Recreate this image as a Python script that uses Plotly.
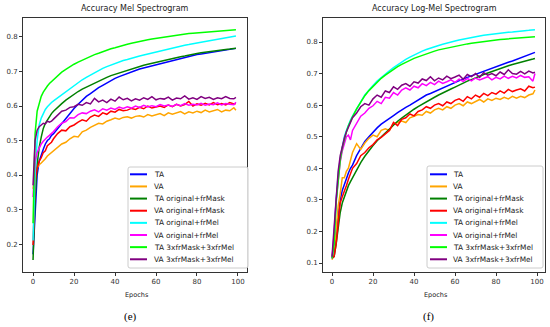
import plotly.graph_objects as go

epochs = [0, 1, 2, 3, 4, 5, 6, 7, 8, 9, 10, 12, 14, 16, 18, 20, 22, 24, 26, 28, 30, 32, 34, 36, 38,
          40, 42, 44, 46, 48, 50, 52, 54, 56, 58, 60, 62, 64, 66, 68, 70, 72, 74, 76, 78, 80,
          82, 84, 86, 88, 90, 92, 94, 96, 98, 99]

series_names = ["TA", "VA", "TA original+frMask", "VA original+frMask",
                "TA original+frMel", "VA original+frMel", "TA 3xfrMask+3xfrMel", "VA 3xfrMask+3xfrMel"]
series_colors = ["#0000ff", "#ffa500", "#008000", "#ff0000", "#00ffff", "#ff00ff", "#00ff00", "#800080"]

# ---- (e) Accuracy Mel Spectrogram ----
mel_ta = [0.17, 0.30, 0.40, 0.44, 0.46, 0.475, 0.49, 0.50, 0.505, 0.515, 0.52, 0.535, 0.55, 0.565, 0.58, 0.593,
          0.605, 0.617, 0.628, 0.636, 0.645, 0.653, 0.66, 0.667, 0.675, 0.68, 0.685, 0.69, 0.695, 0.699, 0.703,
          0.707, 0.71, 0.714, 0.717, 0.72, 0.724, 0.727, 0.73, 0.733, 0.735, 0.738, 0.741, 0.744, 0.747, 0.749,
          0.751, 0.753, 0.755, 0.757, 0.759, 0.761, 0.762, 0.764, 0.766, 0.767]
mel_va = [0.36, 0.40, 0.42, 0.43, 0.435, 0.44, 0.447, 0.455, 0.46, 0.465, 0.47, 0.48, 0.49, 0.495, 0.505, 0.512,
          0.51, 0.525, 0.53, 0.538, 0.545, 0.55, 0.548, 0.556, 0.56, 0.565, 0.562, 0.567, 0.569, 0.565, 0.57,
          0.572, 0.568, 0.575, 0.571, 0.574, 0.578, 0.572, 0.58, 0.576, 0.58, 0.584, 0.577, 0.583, 0.58, 0.585,
          0.581, 0.588, 0.583, 0.586, 0.59, 0.583, 0.588, 0.586, 0.595, 0.588]
mel_ta_frmask = [0.154, 0.33, 0.43, 0.48, 0.51, 0.535, 0.55, 0.56, 0.57, 0.578, 0.585, 0.597, 0.607, 0.617, 0.626,
                 0.634, 0.642, 0.649, 0.655, 0.661, 0.667, 0.673, 0.678, 0.683, 0.688, 0.692, 0.696, 0.70, 0.704,
                 0.708, 0.711, 0.715, 0.718, 0.721, 0.724, 0.727, 0.73, 0.733, 0.736, 0.738, 0.741, 0.743, 0.745,
                 0.748, 0.75, 0.752, 0.754, 0.756, 0.757, 0.759, 0.761, 0.762, 0.764, 0.765, 0.766, 0.767]
mel_va_frmask = [0.197, 0.38, 0.42, 0.44, 0.45, 0.465, 0.47, 0.485, 0.49, 0.495, 0.505, 0.52, 0.53, 0.528, 0.54,
                 0.545, 0.553, 0.56, 0.556, 0.568, 0.574, 0.57, 0.58, 0.576, 0.585, 0.582, 0.59, 0.586, 0.588,
                 0.593, 0.59, 0.596, 0.592, 0.60, 0.594, 0.598, 0.60, 0.596, 0.603, 0.598, 0.605, 0.60, 0.604,
                 0.613, 0.60, 0.606, 0.602, 0.608, 0.603, 0.61, 0.604, 0.607, 0.603, 0.61, 0.606, 0.607]
mel_ta_frmel = [0.21, 0.40, 0.50, 0.545, 0.565, 0.58, 0.59, 0.598, 0.605, 0.61, 0.615, 0.624, 0.633, 0.642, 0.65,
                0.66, 0.668, 0.676, 0.683, 0.69, 0.697, 0.703, 0.709, 0.714, 0.719, 0.724, 0.728, 0.732, 0.735,
                0.739, 0.742, 0.745, 0.748, 0.751, 0.754, 0.757, 0.76, 0.763, 0.766, 0.768, 0.771, 0.773, 0.776,
                0.778, 0.781, 0.783, 0.785, 0.787, 0.789, 0.791, 0.793, 0.795, 0.797, 0.799, 0.801, 0.803]
mel_va_frmel = [0.336, 0.44, 0.465, 0.48, 0.49, 0.498, 0.505, 0.51, 0.515, 0.52, 0.526, 0.54, 0.55, 0.555, 0.566,
                0.565, 0.575, 0.58, 0.578, 0.585, 0.589, 0.583, 0.592, 0.588, 0.594, 0.59, 0.597, 0.593, 0.598,
                0.594, 0.60, 0.596, 0.602, 0.597, 0.601, 0.598, 0.604, 0.60, 0.603, 0.599, 0.605, 0.601, 0.607,
                0.602, 0.605, 0.603, 0.608, 0.602, 0.606, 0.604, 0.609, 0.603, 0.607, 0.605, 0.604, 0.611]
mel_ta_3x = [0.26, 0.52, 0.585, 0.61, 0.628, 0.64, 0.65, 0.658, 0.665, 0.671, 0.677, 0.688, 0.698, 0.706, 0.714,
             0.721, 0.727, 0.733, 0.738, 0.744, 0.749, 0.753, 0.758, 0.762, 0.766, 0.769, 0.773, 0.776, 0.779,
             0.782, 0.785, 0.787, 0.79, 0.792, 0.794, 0.796, 0.798, 0.80, 0.802, 0.804, 0.805, 0.807, 0.808,
             0.81, 0.811, 0.812, 0.813, 0.814, 0.815, 0.816, 0.817, 0.818, 0.819, 0.82, 0.821, 0.821]
mel_va_3x = [0.37, 0.50, 0.53, 0.54, 0.545, 0.55, 0.548, 0.556, 0.553, 0.556, 0.562, 0.573, 0.585, 0.588, 0.596,
             0.598, 0.605, 0.602, 0.61, 0.606, 0.622, 0.612, 0.617, 0.61, 0.62, 0.614, 0.626, 0.618, 0.622,
             0.615, 0.621, 0.617, 0.624, 0.619, 0.627, 0.618, 0.622, 0.62, 0.626, 0.617, 0.623, 0.621, 0.629,
             0.62, 0.624, 0.619, 0.627, 0.622, 0.625, 0.619, 0.624, 0.621, 0.627, 0.622, 0.621, 0.625]

# ---- (f) Accuracy Log-Mel Spectrogram ----
log_ta = [0.115, 0.13, 0.20, 0.26, 0.30, 0.33, 0.35, 0.37, 0.385, 0.40, 0.41, 0.44, 0.465, 0.485, 0.50, 0.515,
          0.528, 0.54, 0.55, 0.559, 0.567, 0.576, 0.585, 0.593, 0.60, 0.608, 0.615, 0.622, 0.632, 0.637, 0.643,
          0.649, 0.655, 0.661, 0.666, 0.672, 0.678, 0.683, 0.688, 0.693, 0.698, 0.703, 0.708, 0.713, 0.718,
          0.723, 0.727, 0.732, 0.736, 0.740, 0.745, 0.749, 0.754, 0.759, 0.764, 0.767]
log_va = [0.11, 0.13, 0.20, 0.28, 0.32, 0.37, 0.37, 0.39, 0.40, 0.43, 0.45, 0.478, 0.46, 0.48, 0.495, 0.505,
          0.50, 0.52, 0.525, 0.52, 0.54, 0.545, 0.55, 0.545, 0.56, 0.565, 0.57, 0.568, 0.58, 0.575, 0.585,
          0.59, 0.585, 0.595, 0.59, 0.60, 0.605, 0.598, 0.61, 0.605, 0.612, 0.618, 0.61, 0.62, 0.615, 0.622,
          0.618, 0.625, 0.62, 0.628, 0.622, 0.628, 0.624, 0.632, 0.636, 0.648]
log_ta_frmask = [0.115, 0.12, 0.16, 0.22, 0.26, 0.29, 0.31, 0.33, 0.345, 0.358, 0.37, 0.395, 0.418, 0.438, 0.456,
                 0.472, 0.487, 0.50, 0.513, 0.525, 0.538, 0.549, 0.559, 0.569, 0.578, 0.587, 0.595, 0.603, 0.611,
                 0.618, 0.625, 0.632, 0.639, 0.645, 0.651, 0.657, 0.664, 0.67, 0.676, 0.681, 0.687, 0.692, 0.697,
                 0.702, 0.707, 0.712, 0.716, 0.72, 0.725, 0.729, 0.732, 0.736, 0.739, 0.743, 0.746, 0.748]
log_va_frmask = [0.115, 0.12, 0.16, 0.22, 0.29, 0.31, 0.325, 0.345, 0.365, 0.385, 0.40, 0.415, 0.44, 0.45, 0.465,
                 0.475, 0.49, 0.498, 0.51, 0.52, 0.545, 0.535, 0.555, 0.56, 0.572, 0.566, 0.58, 0.585, 0.595,
                 0.59, 0.60, 0.605, 0.598, 0.61, 0.605, 0.615, 0.62, 0.612, 0.627, 0.62, 0.632, 0.625, 0.637,
                 0.63, 0.64, 0.635, 0.645, 0.638, 0.65, 0.643, 0.648, 0.652, 0.645, 0.66, 0.655, 0.657]
log_ta_frmel = [0.115, 0.17, 0.30, 0.38, 0.43, 0.47, 0.50, 0.52, 0.54, 0.553, 0.565, 0.59, 0.61, 0.632, 0.648,
                0.662, 0.676, 0.688, 0.699, 0.709, 0.719, 0.728, 0.737, 0.745, 0.752, 0.759, 0.765, 0.771, 0.776,
                0.781, 0.785, 0.789, 0.793, 0.797, 0.80, 0.803, 0.806, 0.809, 0.812, 0.814, 0.817, 0.819, 0.821,
                0.823, 0.825, 0.826, 0.828, 0.83, 0.831, 0.832, 0.834, 0.835, 0.836, 0.837, 0.838, 0.839]
log_va_frmel = [0.115, 0.19, 0.30, 0.37, 0.42, 0.455, 0.48, 0.50, 0.505, 0.49, 0.52, 0.545, 0.565, 0.575, 0.59,
                0.598, 0.612, 0.605, 0.625, 0.622, 0.64, 0.632, 0.648, 0.655, 0.648, 0.66, 0.655, 0.668, 0.662,
                0.672, 0.665, 0.676, 0.669, 0.674, 0.68, 0.672, 0.682, 0.675, 0.685, 0.677, 0.686, 0.68, 0.684,
                0.69, 0.68, 0.688, 0.683, 0.692, 0.685, 0.691, 0.686, 0.694, 0.688, 0.69, 0.676, 0.70]
log_ta_3x = [0.115, 0.16, 0.29, 0.37, 0.425, 0.465, 0.495, 0.515, 0.535, 0.55, 0.563, 0.588, 0.609, 0.63, 0.646,
             0.66, 0.673, 0.685, 0.695, 0.705, 0.714, 0.722, 0.729, 0.736, 0.742, 0.748, 0.753, 0.758, 0.763,
             0.767, 0.771, 0.775, 0.778, 0.781, 0.784, 0.787, 0.79, 0.792, 0.794, 0.796, 0.798, 0.80, 0.802,
             0.803, 0.805, 0.806, 0.808, 0.809, 0.81, 0.811, 0.812, 0.813, 0.814, 0.815, 0.816, 0.817]
log_va_3x = [0.12, 0.22, 0.32, 0.39, 0.44, 0.47, 0.495, 0.515, 0.53, 0.55, 0.56, 0.575, 0.595, 0.605, 0.60,
             0.62, 0.632, 0.625, 0.645, 0.64, 0.658, 0.65, 0.663, 0.668, 0.66, 0.674, 0.67, 0.683, 0.678,
             0.69, 0.677, 0.686, 0.68, 0.692, 0.684, 0.689, 0.695, 0.682, 0.697, 0.69, 0.70, 0.688, 0.703,
             0.695, 0.70, 0.693, 0.705, 0.697, 0.712, 0.70, 0.698, 0.707, 0.699, 0.708, 0.702, 0.704]

mel_series = [mel_ta, mel_va, mel_ta_frmask, mel_va_frmask, mel_ta_frmel, mel_va_frmel, mel_ta_3x, mel_va_3x]
log_series = [log_ta, log_va, log_ta_frmask, log_va_frmask, log_ta_frmel, log_va_frmel, log_ta_3x, log_va_3x]

x_ticks = [0, 20, 40, 60, 80, 100]
mel_y_ticks = [0.2, 0.3, 0.4, 0.5, 0.6, 0.7, 0.8]
log_y_ticks = [0.1, 0.2, 0.3, 0.4, 0.5, 0.6, 0.7, 0.8]

W, H = 550, 327
fig = go.Figure()

for vals, name, col in zip(mel_series, series_names, series_colors):
    fig.add_trace(go.Scatter(x=epochs, y=vals, mode="lines", name=name, showlegend=False,
                             line=dict(color=col, width=1.5), xaxis="x", yaxis="y"))
for vals, name, col in zip(log_series, series_names, series_colors):
    fig.add_trace(go.Scatter(x=epochs, y=vals, mode="lines", name=name, showlegend=False,
                             line=dict(color=col, width=1.5), xaxis="x2", yaxis="y2"))

tick_font = dict(family="DejaVu Sans", size=7, color="#333333")
ax_common = dict(showgrid=False, zeroline=False, showline=True, linecolor="#333333", linewidth=1,
                 mirror=True, ticks="outside", ticklen=3, tickwidth=1, tickcolor="#333333",
                 tickfont=tick_font)


def px_x(p):
    return p / W


def px_y(p):
    return (H - p) / H


lx = [px_x(23), px_x(247)]
rx = [px_x(323), px_x(545)]
yd = [px_y(272), px_y(18)]

fig.update_layout(
    width=W, height=H, margin=dict(l=0, r=0, t=0, b=0),
    paper_bgcolor="white", plot_bgcolor="white",
    font=dict(family="DejaVu Sans", size=7, color="#333333"),
    xaxis=dict(domain=lx, range=[-4.9, 104.4], tickvals=x_ticks, anchor="y", **ax_common),
    yaxis=dict(domain=yd, range=[0.119, 0.855], tickvals=mel_y_ticks, ticktext=[f"{v:.1f}" for v in mel_y_ticks],
               anchor="x", **ax_common),
    xaxis2=dict(domain=rx, range=[-4.4, 103.9], tickvals=x_ticks, anchor="y2", **ax_common),
    yaxis2=dict(domain=yd, range=[0.0715, 0.876], tickvals=log_y_ticks, ticktext=[f"{v:.1f}" for v in log_y_ticks],
                anchor="x2", **ax_common),
    showlegend=False,
)


# Compact matplotlib-style legends (box, line samples and labels), drawn in paper space
def rounded_box(x0, y0, x1, y1, r=2):
    X0, X1 = px_x(x0), px_x(x1)
    Y0, Y1 = px_y(y1), px_y(y0)
    rx_, ry_ = r / W, r / H
    return (f"M {X0 + rx_} {Y0} L {X1 - rx_} {Y0} Q {X1} {Y0} {X1} {Y0 + ry_} "
            f"L {X1} {Y1 - ry_} Q {X1} {Y1} {X1 - rx_} {Y1} L {X0 + rx_} {Y1} "
            f"Q {X0} {Y1} {X0} {Y1 - ry_} L {X0} {Y0 + ry_} Q {X0} {Y0} {X0 + rx_} {Y0} Z")


legends = [
    dict(box=(128, 167, 248, 268), line_x=(129, 147), text_x=152, row0=174.3, step=12.14),
    dict(box=(427, 166, 543, 268), line_x=(429, 447), text_x=451, row0=174.3, step=12.14),
]
for lg in legends:
    fig.add_shape(type="path", path=rounded_box(*lg["box"]), xref="paper", yref="paper",
                  line=dict(color="#cccccc", width=1), fillcolor="rgba(255,255,255,0.85)", layer="above")
    for i, (name, col) in enumerate(zip(series_names, series_colors)):
        yy = lg["row0"] + i * lg["step"]
        fig.add_shape(type="line", xref="paper", yref="paper",
                      x0=px_x(lg["line_x"][0] + 1), x1=px_x(lg["line_x"][1]), y0=px_y(yy), y1=px_y(yy),
                      line=dict(color=col, width=2), layer="above")
        fig.add_annotation(text=name, xref="paper", yref="paper", x=px_x(lg["text_x"]), y=px_y(yy),
                           xanchor="left", yanchor="middle", showarrow=False,
                           font=dict(family="DejaVu Sans", size=7.4, color="#222222"))

annots = [
    dict(text="Accuracy Mel Spectrogram", x=(lx[0] + lx[1]) / 2, y=px_y(9), font=dict(size=8, color="#222222")),
    dict(text="Accuracy Log-Mel Spectrogram", x=(rx[0] + rx[1]) / 2, y=px_y(9), font=dict(size=8, color="#222222")),
    dict(text="Epochs", x=(lx[0] + lx[1]) / 2 + 2 / W, y=px_y(295), font=dict(size=6.5, color="#222222")),
    dict(text="Epochs", x=(rx[0] + rx[1]) / 2 + 2 / W, y=px_y(295), font=dict(size=6.5, color="#222222")),
    dict(text="(e)", x=px_x(130), y=px_y(316), font=dict(family="Liberation Serif", size=11, color="#000000")),
    dict(text="(f)", x=px_x(428), y=px_y(316), font=dict(family="Liberation Serif", size=11, color="#000000")),
]
for a in annots:
    fig.add_annotation(xref="paper", yref="paper", showarrow=False, xanchor="center", yanchor="middle", **a)

fig.write_html("out.html", config={"displayModeBar": False},
               post_script="document.body.style.margin='0';document.body.style.overflow='hidden';")
